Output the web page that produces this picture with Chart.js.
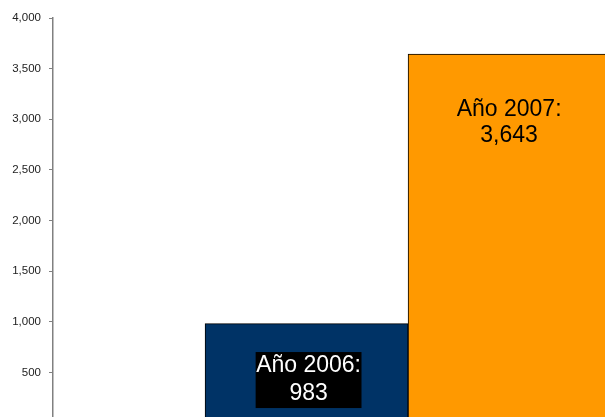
<!DOCTYPE html>
<html>
<head>
<meta charset="utf-8">
<script src="https://cdn.jsdelivr.net/npm/chart.js@4"></script>
<style>
html,body{margin:0;padding:0;overflow:hidden;background:#fff;width:605px;height:417px;}
canvas{display:block;}
</style>
</head>
<body>
<canvas id="c" width="605" height="438"></canvas>
<script>
// ---- data ----
const categories = ['Año 2006', 'Año 2007'];
const values = [983, 3643];
const yTicks = [0, 500, 1000, 1500, 2000, 2500, 3000, 3500, 4000];

// ---- styles ----
const barColors = ['#003366', '#FF9900'];
const labelColors = ['#FFFFFF', '#000000'];
const labelBackgrounds = ['#000000', null];
const labelOffsets = [56.5, 69];   // px below bar top for label centre
const labelLineHeights = [28, 26];
const labelShiftX = [2, -0.5];
const FONT = '"Liberation Sans", Arial, sans-serif';

const fmt = v => v.toLocaleString('en-US');

const labelPlugin = {
  id: 'barLabels',
  afterDatasetsDraw(chart) {
    const ctx = chart.ctx;
    const meta = chart.getDatasetMeta(0);
    ctx.save();
    ctx.font = '23px ' + FONT;
    ctx.textAlign = 'center';
    ctx.textBaseline = 'middle';
    meta.data.forEach((bar, i) => {
      const lines = [categories[i] + ':', fmt(values[i])];
      const lh = labelLineHeights[i];
      const cx = bar.x + labelShiftX[i];
      const cy = bar.y + labelOffsets[i];
      if (labelBackgrounds[i]) {
        const w = Math.max(...lines.map(l => ctx.measureText(l).width)) + 1;
        const h = lh * lines.length;
        ctx.fillStyle = labelBackgrounds[i];
        ctx.fillRect(cx - w / 2, cy - h / 2, w, h);
      }
      ctx.fillStyle = labelColors[i];
      lines.forEach((l, k) => {
        ctx.fillText(l, cx, cy + (k - (lines.length - 1) / 2) * lh);
      });
    });
    ctx.restore();
  }
};

new Chart(document.getElementById('c'), {
  type: 'bar',
  data: {
    datasets: [{
      data: values.map((v, i) => ({ x: i + 1, y: v })),
      backgroundColor: barColors,
      borderColor: '#000000',
      borderWidth: 1,
      barPercentage: 1,
      categoryPercentage: 1
    }]
  },
  options: {
    responsive: false,
    animation: false,
    events: [],
    layout: { padding: { top: 18, right: 0, bottom: 0, left: 0 } },
    plugins: { legend: { display: false }, tooltip: { enabled: false } },
    scales: {
      x: {
        type: 'linear',
        display: false,
        offset: false,
        grid: { offset: false },
        bounds: 'data',
        min: -0.249,
        max: 2.47,
        afterBuildTicks(scale) { scale.ticks = categories.map((c, i) => ({ value: i + 1 })); }
      },
      y: {
        min: 0,
        max: 4000,
        afterFit(scale) { scale.width = 53; },
        afterBuildTicks(scale) { scale.ticks = yTicks.map(v => ({ value: v })); },
        ticks: {
          padding: 8,
          color: '#222',
          font: { family: FONT, size: 11.5 },
          callback: v => fmt(v)
        },
        grid: { drawOnChartArea: false, tickLength: 4, color: '#808080', lineWidth: 1 },
        border: { color: '#808080', width: 1.5 }
      }
    }
  },
  plugins: [labelPlugin]
});
</script>
</body>
</html>
